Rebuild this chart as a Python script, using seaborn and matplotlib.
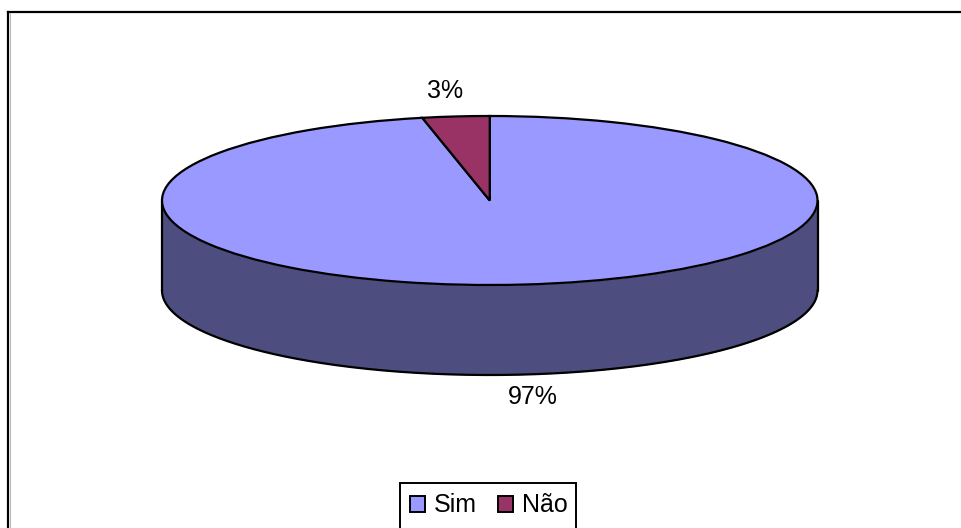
import numpy as np
import matplotlib
matplotlib.use("Agg")
import matplotlib.pyplot as plt
from matplotlib.patches import Patch, Rectangle
from matplotlib.lines import Line2D
import seaborn as sns

categories = ["Sim", "Não"]
values = [96.7, 3.3]
labels = ["97%", "3%"]
colors = ["#9999FF", "#993366"]
side_color = "#4D4D80"

sns.set_theme(style="white")
plt.rcParams["font.family"] = ["Liberation Sans", "DejaVu Sans"]
palette = sns.color_palette(colors)

W, H = 961, 528
fig = plt.figure(figsize=(W / 100, H / 100), dpi=100, facecolor="white")

# Chart frame: only left and top edges fall inside the canvas
frame = fig.add_axes([8 / W, 0, 1 - 8 / W, 1 - 12 / H])
frame.set_xticks([]); frame.set_yticks([])
for side, sp in frame.spines.items():
    sp.set_visible(side in ("left", "top"))
    sp.set_color("black"); sp.set_linewidth(1.6)
fig.add_artist(Line2D([10.3 / W, 10.3 / W], [0, 1 - 13 / H], color="#BBBBBB", lw=0.8))

# Pie: unit ellipse stretched by a free aspect ratio
left, right, top, bottom = 162, 817.5, 116, 375
ry_px = 84.5
depth = (bottom - top - 2 * ry_px) / ry_px
ax = fig.add_axes([left / W, 1 - bottom / H, (right - left) / W, (bottom - top) / H])
ax.patch.set_alpha(0)

lw = 1.6
edge = dict(edgecolor="black", linewidth=lw, clip_on=False, zorder=3)
wedges, _ = ax.pie(values, colors=palette, startangle=90, counterclock=False,
                   radius=1, wedgeprops=edge)
ax.set_aspect("auto")
ax.set_xlim(-1, 1)
ax.set_ylim(-1 - depth, 1)

# Extruded front wall of the pie
t = np.linspace(np.pi, 2 * np.pi, 300)
ax.fill_between(np.cos(t), np.sin(t), np.sin(t) - depth, color=side_color, lw=0, zorder=1)
ax.plot(np.cos(t), np.sin(t) - depth, color="black", lw=lw, zorder=2, clip_on=False)
for s in (-1, 1):
    ax.plot([s, s], [0, -depth], color="black", lw=lw, zorder=2, clip_on=False)

# Data labels
fs = 18
fig.text(533 / W, 1 - 397.5 / H, labels[0], ha="center", va="center", fontsize=fs, color="black")
fig.text(445 / W, 1 - 91.5 / H, labels[1], ha="center", va="center", fontsize=fs, color="black")

# Legend: its box runs past the canvas bottom, so no lower edge shows
fig.add_artist(Rectangle((400 / W, -10 / H), 176 / W, (528 - 483 + 10) / H,
                         transform=fig.transFigure, facecolor="white",
                         edgecolor="black", linewidth=1.4))
handles = [Patch(facecolor=c, edgecolor="black", linewidth=1.4) for c in palette]
leg = fig.legend(handles, categories, ncol=2, loc="upper left",
                 bbox_to_anchor=(400.5 / W, 1 - 484 / H), bbox_transform=fig.transFigure,
                 fontsize=fs, frameon=False, labelcolor="black", borderaxespad=0,
                 handlelength=0.6, handleheight=0.6, handletextpad=0.35,
                 columnspacing=0.85, borderpad=0.38)

fig.savefig("out.png", dpi=100, facecolor="white")
